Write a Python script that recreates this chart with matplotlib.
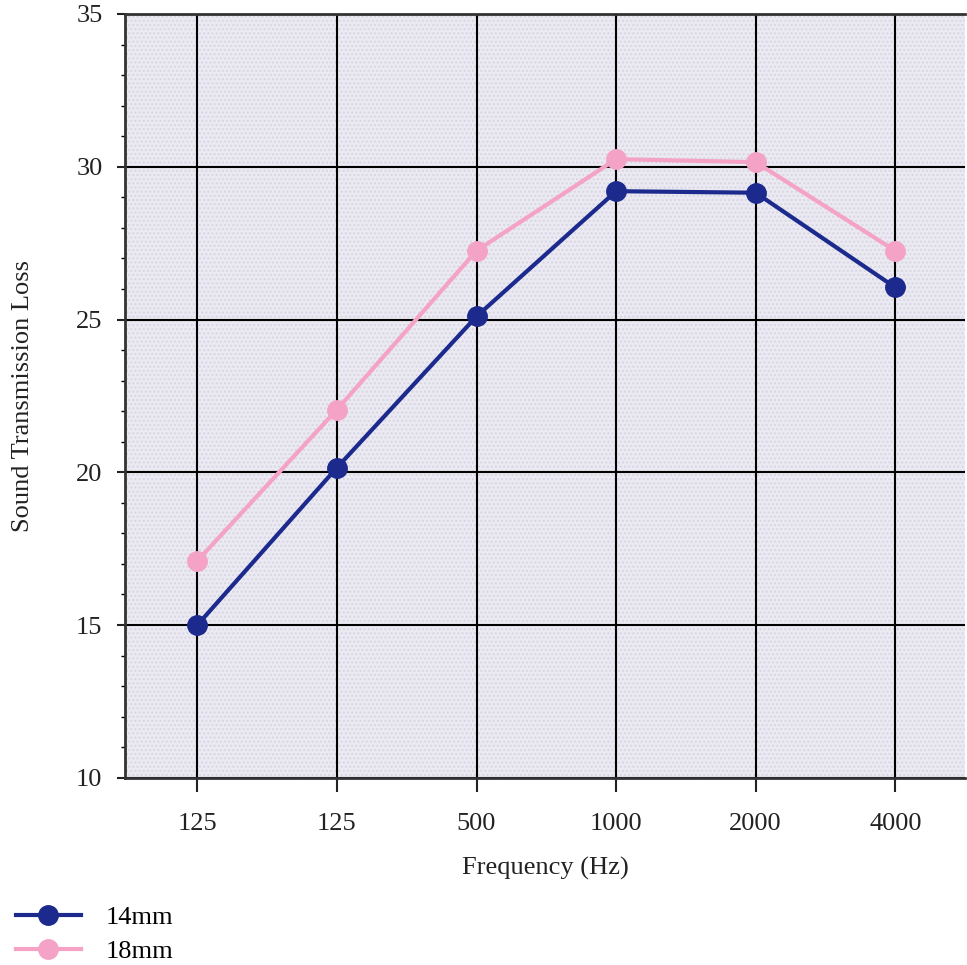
import numpy as np
import matplotlib.pyplot as plt

plt.rcParams['font.family'] = ['Liberation Serif', 'DejaVu Serif']

freq_labels = ['125', '125', '500', '1000', '2000', '4000']
stl_14mm = [15.0, 20.15, 25.1, 29.2, 29.15, 26.05]
stl_18mm = [17.1, 22.05, 27.25, 30.25, 30.15, 27.25]

x = np.arange(len(freq_labels))

fig = plt.figure(figsize=(9.67, 9.65), dpi=100)
ax = fig.add_axes([0.129, 0.194, 0.869, 0.7915])
ax.set_facecolor('#ebe9f2')
ax.patch.set_hatch('....')
ax.patch.set_edgecolor('#d8d6e2')

ax.plot(x, stl_14mm, color='#1c2a8e', lw=3, marker='o', ms=14, label='14mm', zorder=4)
ax.plot(x, stl_18mm, color='#f4a3c6', lw=3, marker='o', ms=14, label='18mm', zorder=3)

ax.set_xlim(-0.52, 5.5)
ax.set_ylim(10, 35)
ax.set_xticks(x)
ax.set_xticklabels(freq_labels)
ax.set_yticks([10, 15, 20, 25, 30, 35])
ax.set_yticks(np.arange(10, 36, 1), minor=True)
ax.grid(True, color='black', lw=1.5)
ax.set_axisbelow(True)

for s in ['left', 'bottom', 'top']:
    ax.spines[s].set_color('#333333')
    ax.spines[s].set_linewidth(2)
ax.spines['right'].set_visible(False)

ax.tick_params(axis='x', length=10, width=1.5, pad=15, labelsize=19, colors='#222222')
ax.tick_params(axis='y', length=6, width=1.5, pad=10, labelsize=19, colors='#222222')
ax.tick_params(axis='y', which='minor', length=3, width=1)

ax.set_xlabel('Frequency (Hz)', fontsize=19, labelpad=16, color='#222222')
ax.set_ylabel('Sound Transmission Loss', fontsize=19, labelpad=30, color='#222222')

fig.legend(loc='upper left', bbox_to_anchor=(-0.008, 0.086), frameon=False,
           fontsize=19, handlelength=2.45, handletextpad=0.95, labelspacing=0.4)

fig.savefig('out.png', dpi=100)
